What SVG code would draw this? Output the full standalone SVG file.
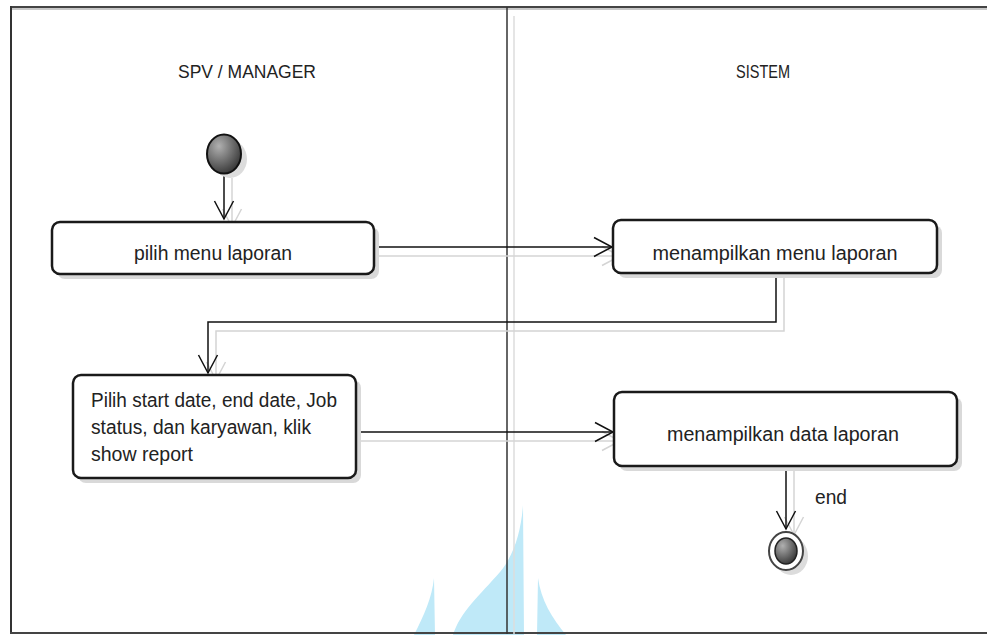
<svg xmlns="http://www.w3.org/2000/svg" width="987" height="635" viewBox="0 0 987 635">
<defs>
<style>
.lbl{font-family:"Liberation Sans",Arial,sans-serif;font-size:20px;fill:#222}
.hdr{font-family:"Liberation Sans",Arial,sans-serif;font-size:18px;fill:#222;text-anchor:middle}
.box{fill:#fff;stroke:#1a1a1a;stroke-width:2.5}
.shd{fill:#d9d9d9;stroke:none}
.ln{fill:none;stroke:#111;stroke-width:1.5}
.sl{fill:none;stroke:#d4d4d4;stroke-width:1.5}
.wm{fill:#bfe9f8}
</style>
<marker id="arr" markerUnits="userSpaceOnUse" markerWidth="24" markerHeight="24" viewBox="-21 -12 24 24" refX="0" refY="0" orient="auto">
<path d="M-18,-9.5 L0,0 L-18,9.5" fill="none" stroke="#111" stroke-width="1.5"/>
</marker>
<marker id="sarr" markerUnits="userSpaceOnUse" markerWidth="24" markerHeight="24" viewBox="-21 -12 24 24" refX="0" refY="0" orient="auto">
<path d="M-18,-9.5 L0,0 L-18,9.5" fill="none" stroke="#d4d4d4" stroke-width="1.5"/>
</marker>
<radialGradient id="g1" cx="0.35" cy="0.3" r="0.8">
<stop offset="0" stop-color="#b0b0b0"/>
<stop offset="1" stop-color="#2e2e2e"/>
</radialGradient>
</defs>
<rect width="987" height="635" fill="#fff"/>
<g id="watermark">
<path class="wm" d="M523,505 L524,635 L453,635 C460,612 480,595 500,572 C514,555 521,532 523,505 Z"/>
<path class="wm" d="M434,578 L435,635 L414,635 C424,615 432,598 434,578 Z"/>
<path class="wm" d="M538,578 L537,635 L566,635 C552,618 541,600 538,578 Z"/>
</g>
<g id="frame">
<line x1="11" y1="9" x2="987" y2="9" stroke="#c8c8c8" stroke-width="2"/>
<line x1="11" y1="7" x2="987" y2="7" stroke="#444" stroke-width="2"/>
<line x1="11" y1="6" x2="11" y2="634" stroke="#333" stroke-width="2"/>
<line x1="10" y1="633" x2="987" y2="633" stroke="#444" stroke-width="2"/>
<line x1="507" y1="7" x2="507" y2="634" stroke="#333" stroke-width="1.5"/>
<line x1="514" y1="16" x2="514" y2="634" stroke="#ddd" stroke-width="1.5"/>
<text class="hdr" x="247" y="78" textLength="138" lengthAdjust="spacingAndGlyphs">SPV / MANAGER</text>
<text class="hdr" x="763" y="78" textLength="54" lengthAdjust="spacingAndGlyphs">SISTEM</text>
</g>
<g id="connectors">
<line class="sl" x1="232" y1="178" x2="232" y2="227" marker-end="url(#sarr)"/>
<line class="sl" x1="378" y1="256" x2="620" y2="256" marker-end="url(#sarr)"/>
<polyline class="sl" points="784,276 784,331 216,331 216,380" marker-end="url(#sarr)"/>
<line class="sl" x1="358" y1="441" x2="620" y2="441" marker-end="url(#sarr)"/>
<line class="sl" x1="794" y1="469" x2="794" y2="535" marker-end="url(#sarr)"/>
<line class="ln" x1="224" y1="172" x2="224" y2="219" marker-end="url(#arr)"/>
<line class="ln" x1="374" y1="247" x2="612" y2="247" marker-end="url(#arr)"/>
<polyline class="ln" points="776,273 776,322 208,322 208,373" marker-end="url(#arr)"/>
<line class="ln" x1="356" y1="432" x2="613" y2="432" marker-end="url(#arr)"/>
<line class="ln" x1="786" y1="466" x2="786" y2="529" marker-end="url(#arr)"/>
</g>
<g id="start">
<ellipse cx="230" cy="159" rx="17" ry="19" fill="#dcdcdc"/>
<ellipse cx="224" cy="154" rx="17" ry="19.5" fill="url(#g1)" stroke="#111" stroke-width="2"/>
</g>
<g id="n1">
<rect class="shd" x="57" y="227" width="322" height="52" rx="8"/>
<rect class="box" x="52" y="222" width="322" height="52" rx="8"/>
<text class="lbl" x="213" y="260" text-anchor="middle" textLength="158" lengthAdjust="spacingAndGlyphs">pilih menu laporan</text>
</g>
<g id="n2">
<rect class="shd" x="618" y="225" width="324" height="53" rx="8"/>
<rect class="box" x="613" y="220" width="324" height="53" rx="8"/>
<text class="lbl" x="775" y="260" text-anchor="middle" textLength="245" lengthAdjust="spacingAndGlyphs">menampilkan menu laporan</text>
</g>
<g id="n3">
<rect class="shd" x="78" y="380" width="283" height="103" rx="8"/>
<rect class="box" x="73" y="375" width="283" height="103" rx="8"/>
<text class="lbl" x="91" y="407" textLength="246" lengthAdjust="spacingAndGlyphs">Pilih start date, end date, Job</text>
<text class="lbl" x="91" y="434" textLength="220" lengthAdjust="spacingAndGlyphs">status, dan karyawan, klik</text>
<text class="lbl" x="91" y="461" textLength="102" lengthAdjust="spacingAndGlyphs">show report</text>
</g>
<g id="n4">
<rect class="shd" x="619" y="397" width="343" height="74" rx="8"/>
<rect class="box" x="614" y="392" width="343" height="74" rx="8"/>
<text class="lbl" x="783" y="441" text-anchor="middle" textLength="232" lengthAdjust="spacingAndGlyphs">menampilkan data laporan</text>
</g>
<g id="end">
<rect x="805" y="478" width="48" height="32" fill="#fff"/>
<text class="lbl" x="815" y="504" textLength="32" lengthAdjust="spacingAndGlyphs">end</text>
<ellipse cx="791" cy="556" rx="17" ry="19" fill="#dcdcdc"/>
<ellipse cx="786" cy="551" rx="17" ry="19" fill="#fff" stroke="#444" stroke-width="2"/>
<ellipse cx="786" cy="551" rx="11" ry="13" fill="url(#g1)" stroke="#222" stroke-width="1.5"/>
</g>
</svg>
